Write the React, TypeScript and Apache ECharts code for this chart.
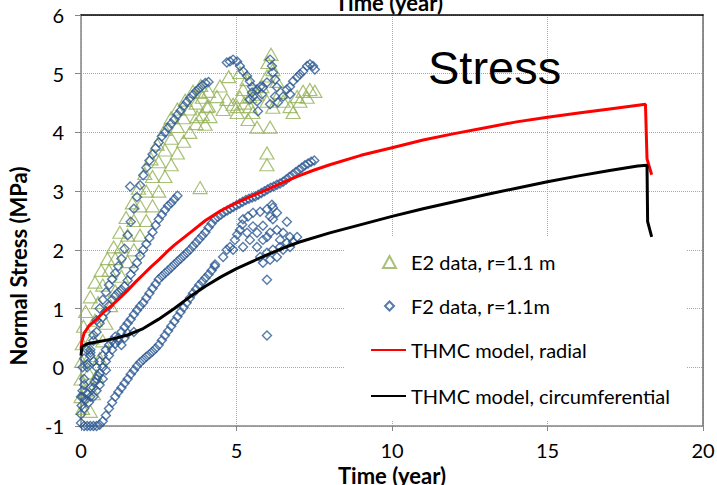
import React, { useEffect, useRef } from "react";
import * as echarts from "echarts";

type P = [number, number];

// ---- axis ticks ----
const xTickValues = [0, 5, 10, 15, 20];
const yTickValues = [-1, 0, 1, 2, 3, 4, 5, 6];

// ---- E2 data (triangles) ----
const e2BandLeft: P[] = [
  [0.0, -0.5], [0.0, -0.2], [0.02, 0.1], [0.04, 0.4], [0.08, 0.7], [0.15, 0.95], [0.3, 1.2], [0.45, 1.45],
  [0.65, 1.65], [0.85, 1.85], [1.05, 2.05], [1.25, 2.3], [1.45, 2.55], [1.65, 2.8], [1.85, 3.05], [2.05, 3.3],
  [2.25, 3.55], [2.45, 3.8], [2.7, 4.05], [2.9, 4.25], [3.1, 4.4], [3.35, 4.55], [3.6, 4.7], [3.85, 4.8],
];
const e2BandMid: P[] = [
  [0.05, -0.7], [0.15, -0.4], [0.25, -0.1], [0.3, 0.2], [0.35, 0.5], [0.45, 0.8], [0.55, 1.1], [0.7, 1.4],
  [0.9, 1.65], [1.1, 1.85], [1.3, 2.05], [1.5, 2.25], [1.7, 2.5], [1.9, 2.75], [2.1, 3.0], [2.3, 3.25],
  [2.5, 3.5], [2.7, 3.7], [2.9, 3.9], [3.1, 4.1], [3.3, 4.25], [3.5, 4.4], [3.7, 4.5], [3.9, 4.6], [4.1, 4.7],
];
const e2BandRight: P[] = [
  [0.3, -0.75], [0.4, -0.45], [0.5, -0.15], [0.6, 0.15], [0.7, 0.45], [0.8, 0.75], [0.95, 1.05], [1.1, 1.3],
  [1.3, 1.55], [1.5, 1.8], [1.7, 2.0], [1.9, 2.25], [2.1, 2.5], [2.3, 2.75], [2.5, 3.0], [2.7, 3.25],
  [2.9, 3.45], [3.1, 3.65], [3.3, 3.85], [3.5, 4.0], [3.7, 4.15], [3.9, 4.3], [4.1, 4.45],
];
const e2Cluster: P[] = [
  [3.83, 4.68], [4.05, 4.44], [3.73, 4.27], [3.99, 4.14], [4.15, 4.27],
  [4.47, 4.79], [4.37, 4.61], [4.69, 4.56], [4.57, 4.39], [4.89, 4.48], [5.02, 4.34],
  [5.11, 5.02], [5.34, 4.9], [5.21, 4.73], [5.43, 4.61], [5.11, 4.6], [5.02, 4.44],
  [6.11, 5.33], [6.01, 5.19], [6.17, 5.07], [5.98, 4.96], [6.3, 4.87], [5.82, 4.78], [5.66, 4.65],
  [5.98, 4.53], [6.17, 4.43], [5.43, 4.44], [5.53, 4.34], [5.66, 4.09], [6.08, 4.09], [5.37, 4.22],
  [6.5, 4.53], [6.72, 4.44], [6.95, 4.61], [7.14, 4.7], [7.36, 4.73], [7.52, 4.7], [7.04, 4.53],
  [7.27, 4.6], [6.82, 4.34], [6.4, 4.68], [4.75, 4.95], [5.25, 4.5],
];
const e2Outliers: P[] = [[3.83, 3.06], [5.98, 3.65], [5.98, 3.45]];

// ---- F2 data (diamonds) ----
const f2StrandUpper: P[] = [
  [0.1, -0.3], [0.2, 0.0], [0.3, 0.3], [0.4, 0.55], [0.5, 0.8], [0.6, 1.0], [0.7, 1.15], [0.8, 1.28],
  [0.9, 1.4], [1.0, 1.5], [1.1, 1.6], [1.2, 1.72], [1.3, 1.85], [1.4, 2.02], [1.5, 2.25], [1.6, 2.48],
  [1.7, 2.7], [1.8, 2.9], [1.9, 3.1], [2.0, 3.27], [2.1, 3.4], [2.2, 3.52], [2.3, 3.63], [2.4, 3.73],
  [2.5, 3.83], [2.6, 3.93], [2.7, 4.0], [2.8, 4.08], [2.9, 4.15], [3.0, 4.22], [3.1, 4.3], [3.2, 4.37],
  [3.3, 4.45], [3.4, 4.52], [3.5, 4.58], [3.6, 4.64], [3.7, 4.7], [3.8, 4.75], [3.9, 4.8], [4.0, 4.84],
  [4.1, 4.86], [1.58, 3.08],
];
const f2StrandMiddle: P[] = [
  [0.1, -0.2], [0.2, 0.05], [0.3, 0.25], [0.4, 0.45], [0.5, 0.6], [0.6, 0.75], [0.7, 0.85], [0.8, 0.95],
  [0.9, 1.05], [1.0, 1.15], [1.1, 1.22], [1.2, 1.28], [1.3, 1.32], [1.4, 1.38], [1.5, 1.48], [1.6, 1.58],
  [1.7, 1.68], [1.8, 1.78], [1.9, 1.9], [2.0, 2.0], [2.1, 2.1], [2.2, 2.2], [2.3, 2.3], [2.4, 2.42],
  [2.5, 2.52], [2.6, 2.6], [2.7, 2.68], [2.8, 2.75], [2.9, 2.8], [3.0, 2.86], [3.1, 2.92],
];
const f2StrandRadial: P[] = [
  [0.3, -0.5], [0.4, -0.35], [0.5, -0.2], [0.6, -0.1], [0.7, 0.0], [0.8, 0.1], [0.9, 0.2], [1.0, 0.3],
  [1.1, 0.4], [1.2, 0.5], [1.3, 0.6], [1.4, 0.68], [1.5, 0.75], [1.6, 0.82], [1.7, 0.9], [1.8, 0.97],
  [1.9, 1.04], [2.0, 1.1], [2.1, 1.18], [2.2, 1.26], [2.3, 1.34], [2.4, 1.42], [2.5, 1.5], [2.6, 1.55],
  [2.7, 1.6], [2.8, 1.65], [2.9, 1.7], [3.0, 1.75], [3.1, 1.8], [3.2, 1.85], [3.3, 1.9], [3.4, 1.95],
  [3.5, 2.0], [3.6, 2.06], [3.7, 2.12], [3.8, 2.18], [3.9, 2.24], [4.0, 2.3], [4.1, 2.38], [4.2, 2.45],
  [4.3, 2.52], [4.4, 2.56], [4.5, 2.6], [4.6, 2.64], [4.7, 2.67], [4.8, 2.7], [4.9, 2.73], [5.0, 2.76],
  [5.1, 2.79], [5.2, 2.82], [5.3, 2.85], [5.4, 2.87], [5.5, 2.89], [5.6, 2.91], [5.7, 2.94], [5.8, 2.97],
  [5.9, 3.0], [6.0, 3.03], [6.1, 3.06], [6.2, 3.08], [6.3, 3.11], [6.4, 3.13], [6.5, 3.16], [6.6, 3.2],
  [6.7, 3.24], [6.8, 3.28], [6.9, 3.32], [7.0, 3.36], [7.1, 3.4], [7.2, 3.44], [7.3, 3.47], [7.4, 3.5],
  [7.5, 3.52],
];
const f2StrandLower: P[] = [
  [0.0, -0.8], [0.02, -0.65], [0.05, -0.5], [0.0, -0.95], [0.1, -1.0], [0.2, -1.0], [0.3, -1.0],
  [0.4, -1.0], [0.5, -1.0], [0.6, -0.98], [0.7, -0.92], [0.8, -0.82], [0.9, -0.7], [1.0, -0.6],
  [1.1, -0.5], [1.2, -0.42], [1.3, -0.35], [1.4, -0.27], [1.5, -0.2], [1.6, -0.12], [1.7, -0.05],
  [1.8, 0.02], [1.9, 0.08], [2.0, 0.13], [2.1, 0.18], [2.2, 0.22], [2.3, 0.27], [2.4, 0.32], [2.5, 0.38],
  [2.6, 0.46], [2.7, 0.54], [2.8, 0.62], [2.9, 0.7], [3.0, 0.78], [3.1, 0.86], [3.2, 0.94], [3.3, 1.02],
  [3.4, 1.1], [3.5, 1.18], [3.6, 1.26], [3.7, 1.33], [3.8, 1.4], [3.9, 1.46], [4.0, 1.52], [4.1, 1.58],
  [4.2, 1.65], [4.3, 1.72],
];
const f2EarlyCluster: P[] = [
  [0.0, -0.5], [0.05, -0.4], [0.1, -0.7], [0.15, -0.55], [0.2, -0.45], [0.25, -0.6], [0.3, -0.35],
  [0.4, -0.5], [0.45, -0.25], [0.5, -0.4], [0.55, -0.15], [0.6, -0.3], [0.7, -0.2], [0.8, -0.05],
  [0.05, 0.0], [0.1, 0.15], [0.2, 0.3], [0.3, 0.2], [0.4, 0.1], [0.5, 0.0], [0.6, 0.1], [0.7, 0.2],
  [0.8, 0.3], [0.9, 0.38], [1.0, 0.45], [1.1, 0.52], [1.2, 0.45], [1.3, 0.38], [1.4, 0.5], [1.5, 0.58],
  [1.7, 0.6],
];
const f2MidCluster: P[] = [
  [4.31, 1.75], [4.57, 1.88], [4.69, 2.0], [4.79, 2.05], [4.95, 2.17], [5.02, 2.26], [5.11, 2.34],
  [5.18, 2.43], [5.21, 2.52], [5.37, 2.57], [5.53, 2.63], [5.76, 2.65], [5.98, 2.69], [6.17, 2.72],
  [6.08, 2.57], [5.85, 2.41], [5.66, 2.29], [5.43, 2.17], [5.21, 2.05], [4.89, 2.0], [6.08, 2.29],
  [6.3, 2.34], [6.5, 2.29], [6.72, 2.22], [6.62, 2.12], [6.4, 2.05], [6.17, 2.0], [5.98, 1.95],
  [5.76, 1.88], [5.66, 2.05], [5.85, 2.17], [6.72, 2.05], [6.82, 2.14], [6.95, 2.22], [6.5, 2.0],
  [6.3, 1.88], [6.08, 1.83], [5.85, 1.78], [6.4, 2.17], [5.98, 2.22], [5.53, 2.4], [5.34, 2.29],
  [6.17, 2.52], [6.3, 2.63], [6.14, 2.77],
];
const f2Outliers: P[] = [[6.62, 2.48], [5.98, 1.49], [5.98, 0.54]];
const f2TopCluster: P[] = [
  [4.69, 5.19], [4.79, 5.21], [4.89, 5.24], [5.02, 5.21], [5.11, 5.13], [5.21, 5.04], [5.34, 4.96],
  [5.43, 4.87], [5.5, 4.78], [5.66, 4.73], [5.76, 4.78], [5.53, 4.61], [5.43, 4.56], [5.66, 4.53],
  [5.5, 4.68], [6.08, 5.24], [6.14, 5.13], [6.17, 5.02], [6.24, 4.9], [5.98, 4.85], [5.85, 4.77],
  [5.82, 4.65], [6.3, 4.77], [6.24, 4.61], [5.69, 4.36], [6.08, 4.48], [6.33, 4.51], [6.5, 4.61],
  [6.62, 4.73], [6.72, 4.78], [6.82, 4.87], [6.95, 4.94], [7.04, 4.99], [7.14, 5.04], [7.27, 5.13],
  [7.36, 5.16], [7.46, 5.13], [7.52, 5.07], [6.72, 4.65],
];

// ---- THMC model curves ----
const radialModel: P[] = [
  [0, 0.3], [0.03, 0.45], [0.1, 0.58], [0.25, 0.7], [0.5, 0.82], [0.75, 0.95], [1.0, 1.06], [1.25, 1.18],
  [1.5, 1.31], [1.75, 1.45], [2.0, 1.58], [2.25, 1.71], [2.5, 1.83], [2.75, 1.96], [3.0, 2.08], [3.5, 2.29],
  [4.0, 2.5], [4.5, 2.67], [5.0, 2.8], [5.5, 2.92], [6.0, 3.03], [6.5, 3.15], [7.0, 3.26], [7.5, 3.36],
  [8.0, 3.45], [9.0, 3.61], [10.0, 3.74], [11, 3.87], [12, 3.98], [13, 4.08], [14, 4.18], [15, 4.26],
  [16, 4.33], [17, 4.4], [18.15, 4.48], [18.2, 3.55], [18.35, 3.28],
];
const circumferentialModel: P[] = [
  [0, 0.2], [0.03, 0.35], [0.2, 0.4], [0.5, 0.43], [1.0, 0.48], [1.5, 0.55], [2.0, 0.66], [2.5, 0.82],
  [3.0, 1.0], [3.5, 1.2], [4.0, 1.38], [4.5, 1.54], [5.0, 1.68], [5.5, 1.8], [6.0, 1.92], [6.5, 2.03],
  [7.0, 2.13], [8.0, 2.29], [9.0, 2.43], [10, 2.57], [11, 2.7], [12, 2.82], [13, 2.94], [14, 3.05],
  [15, 3.16], [16, 3.26], [17, 3.35], [17.9, 3.43], [18.2, 3.44], [18.22, 2.48], [18.35, 2.22],
];

const seriesNames = [
  "E2 data, r=1.1 m",
  "F2 data, r=1.1m",
  "THMC model, radial",
  "THMC model, circumferential",
];

const GREEN = "#93B055";
const BLUE = "#2D5A94";
const FONT = "Lato";

export default function App() {
  const ref = useRef<HTMLDivElement>(null);
  useEffect(() => {
    if (!ref.current) return;
    const chart = echarts.init(ref.current, null, { renderer: "svg" });
    const e2Data = [...e2BandLeft, ...e2BandMid, ...e2BandRight, ...e2Cluster, ...e2Outliers];
    const f2Data = [
      ...f2StrandUpper, ...f2StrandMiddle, ...f2StrandRadial, ...f2StrandLower,
      ...f2EarlyCluster, ...f2MidCluster, ...f2Outliers, ...f2TopCluster,
    ];
    const legendText = { fontFamily: FONT, fontSize: 20, color: "#000", lineHeight: 20 };
    const legendBase = {
      orient: "vertical" as const,
      padding: 0,
      itemGap: 5,
      selectedMode: false,
    };
    const option: any = {
      animation: false,
      backgroundColor: "#fff",
      grid: {
        left: 81, right: 14, top: 15, bottom: 59,
        containLabel: false,
        outerBoundsMode: "none",
      },
      xAxis: [
        {
          type: "value",
          min: xTickValues[0],
          max: xTickValues[xTickValues.length - 1],
          interval: xTickValues[1] - xTickValues[0],
          name: "Time (year)",
          nameLocation: "middle",
          nameGap: 37,
          nameTextStyle: { fontFamily: FONT, fontSize: 22, fontWeight: "bold", color: "#000" },
          axisLine: { onZero: false, lineStyle: { color: "#868686", width: 1.5 } },
          axisTick: { show: true, inside: false, length: 5, lineStyle: { color: "#868686" } },
          axisLabel: { fontFamily: FONT, fontSize: 20, color: "#000", margin: 14 },
          splitLine: { show: true, lineStyle: { color: "#A8A8A8", type: "dotted", width: 1 } },
        },
        {
          type: "value",
          position: "top",
          min: xTickValues[0],
          max: xTickValues[xTickValues.length - 1],
          interval: 5,
          axisLine: { show: true, onZero: false, lineStyle: { color: "#000", width: 1.5 } },
          axisTick: { show: false },
          axisLabel: { show: false },
          splitLine: { show: false },
        },
      ],
      yAxis: [
        {
          type: "value",
          min: yTickValues[0],
          max: yTickValues[yTickValues.length - 1],
          interval: 1,
          axisLine: { show: true, onZero: false, lineStyle: { color: "#868686", width: 1.5 } },
          axisTick: { show: true, inside: false, length: 6, lineStyle: { color: "#868686" } },
          axisLabel: { fontFamily: FONT, fontSize: 20, color: "#000", margin: 17 },
          splitLine: { show: true, lineStyle: { color: "#A8A8A8", type: "dotted", width: 1 } },
        },
        {
          type: "value",
          position: "right",
          min: yTickValues[0],
          max: yTickValues[yTickValues.length - 1],
          interval: 1,
          axisLine: { show: true, onZero: false, lineStyle: { color: "#6E6E6E", width: 1.5 } },
          axisTick: { show: false },
          axisLabel: { show: false },
          splitLine: { show: false },
        },
      ],
      legend: [
        {
          ...legendBase, left: 382, top: 252, itemWidth: 13, itemHeight: 12,
          data: [{ name: seriesNames[0], icon: "triangle" }],
          textStyle: { ...legendText, padding: [0, 0, 0, 10] },
        },
        {
          ...legendBase, left: 384, top: 296, itemWidth: 9, itemHeight: 9,
          data: [{ name: seriesNames[1], icon: "diamond" }],
          textStyle: { ...legendText, padding: [0, 0, 0, 12] },
        },
        {
          ...legendBase, left: 370, top: 340, itemWidth: 35, itemHeight: 14,
          itemStyle: { opacity: 0 },
          data: [seriesNames[2]],
          textStyle: legendText,
        },
        {
          ...legendBase, left: 370, top: 386, itemWidth: 35, itemHeight: 14,
          itemStyle: { opacity: 0 },
          data: [seriesNames[3]],
          textStyle: legendText,
        },
      ],
      graphic: [
        {
          type: "rect",
          z: 1,
          silent: true,
          shape: { x: 344, y: 237, width: 343, height: 183 },
          style: { fill: "#fff" },
        },
        {
          type: "text",
          z: 5,
          x: 428,
          y: 67,
          style: {
            text: "Stress",
            fontFamily: "Liberation Sans",
            fontSize: 47,
            fill: "#000",
            align: "left",
            verticalAlign: "middle",
          },
        },
        {
          type: "text",
          z: 5,
          x: 389,
          y: 2,
          style: {
            text: "Time (year)",
            fontFamily: FONT,
            fontSize: 22,
            fontWeight: "bold",
            fill: "#000",
            align: "center",
            verticalAlign: "middle",
          },
        },
        {
          type: "text",
          z: 5,
          x: 18,
          y: 266,
          rotation: Math.PI / 2,
          style: {
            text: "Normal Stress (MPa)",
            fontFamily: FONT,
            fontSize: 22,
            fontWeight: "bold",
            fill: "#000",
            align: "center",
            verticalAlign: "middle",
          },
        },
      ],
      series: [
        {
          name: seriesNames[2],
          type: "line",
          data: radialModel,
          symbol: "none",
          lineStyle: { color: "#FF0000", width: 3 },
          itemStyle: { color: "#FF0000" },
        },
        {
          name: seriesNames[3],
          type: "line",
          data: circumferentialModel,
          symbol: "none",
          lineStyle: { color: "#000000", width: 3 },
          itemStyle: { color: "#000000" },
        },
        {
          name: seriesNames[0],
          type: "scatter",
          data: e2Data,
          symbol: "triangle",
          symbolSize: [14, 12],
          itemStyle: { color: "rgba(0,0,0,0)", borderColor: GREEN, borderWidth: 1.2 },
        },
        {
          name: seriesNames[1],
          type: "scatter",
          data: f2Data,
          symbol: "diamond",
          symbolSize: 9,
          itemStyle: { color: "rgba(0,0,0,0)", borderColor: BLUE, borderWidth: 1.4 },
        },
      ],
    };
    chart.setOption(option);
    return () => chart.dispose();
  }, []);
  return (
    <div
      ref={ref}
      style={{ position: "fixed", left: 0, top: 0, width: 717, height: 485 }}
    />
  );
}
